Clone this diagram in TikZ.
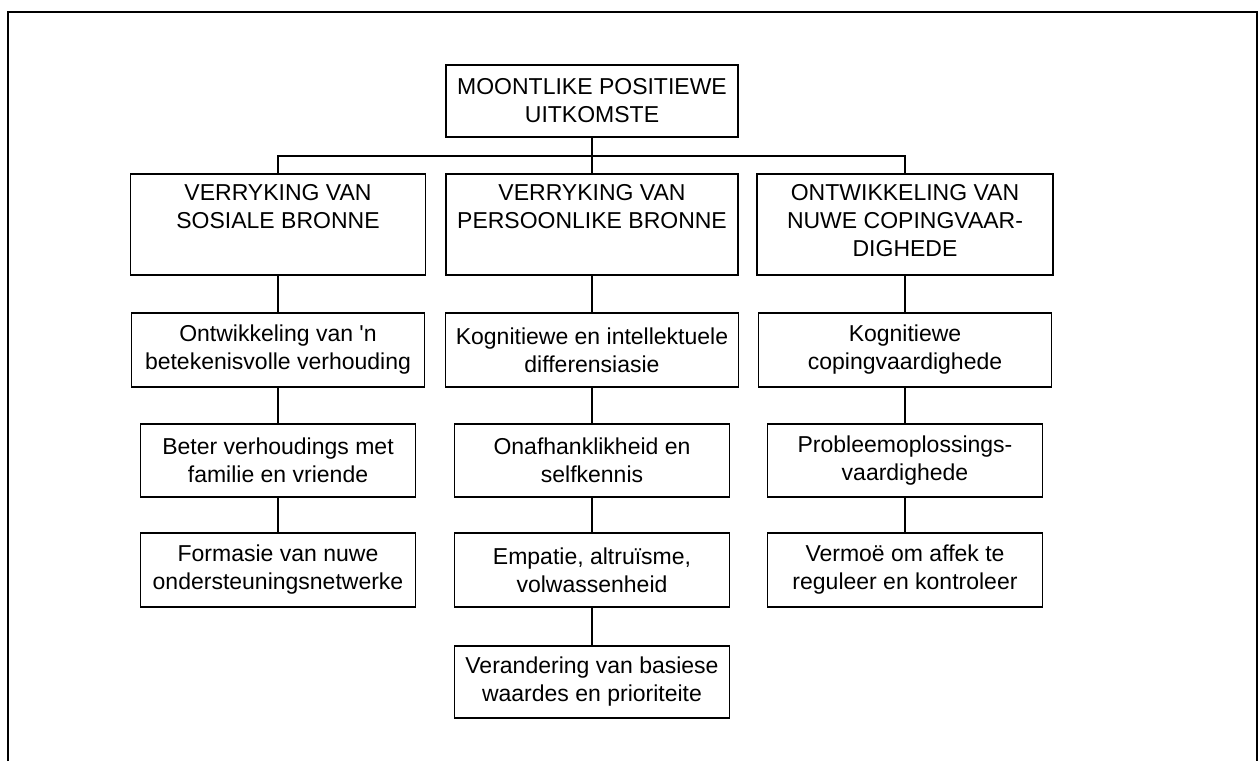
\documentclass[tikz,border=0pt]{standalone}
\usepackage{fontspec}
\setmainfont{Liberation Sans}
\tikzset{box/.style={draw,line width=1.3pt,inner sep=0pt,align=center,font=\fontsize{23}{28}\selectfont},
  wide/.style={box,minimum width=293,minimum height=74},
  narrow/.style={box,minimum width=275,minimum height=73}}

\begin{document}
\begin{tikzpicture}[x=1pt,y=-1pt]
\useasboundingbox (0,0) rectangle (1260,761);
\draw[line width=1.1pt] (8,761)--(8,12)--(1257,12)--(1257,761);
\node[box,minimum width=292,minimum height=72] (top) at (592,101) {MOONTLIKE POSITIEWE\\UITKOMSTE};
\node[box,minimum width=295,minimum height=101] (s1) at (278,224.5) {VERRYKING VAN\\SOSIALE BRONNE\\\strut};
\node[box,minimum width=292,minimum height=101] (p1) at (592,224.5) {VERRYKING VAN\\PERSOONLIKE BRONNE\\\strut};
\node[box,minimum width=296,minimum height=101] (c1) at (905,224.5) {ONTWIKKELING VAN\\NUWE COPINGVAAR-\\DIGHEDE\strut};
\node[wide] (s2) at (278,350) {Ontwikkeling van \textquotesingle n\\betekenisvolle verhouding};
\node[wide] (p2) at (592,350) {Kognitiewe en intellektuele\\differensiasie};
\node[wide] (c2) at (905,350) {Kognitiewe\\copingvaardighede};
\node[narrow] (s3) at (278,460.5) {Beter verhoudings met\\familie en vriende};
\node[narrow] (p3) at (592,460.5) {Onafhanklikheid en\\selfkennis};
\node[narrow] (c3) at (905,460.5) {Probleemoplossings-\\vaardighede};
\node[narrow,minimum height=74] (s4) at (278,570) {Formasie van nuwe\\ondersteuningsnetwerke};
\node[narrow,minimum height=74] (p4) at (592,570) {Empatie, altruïsme,\\volwassenheid};
\node[narrow,minimum height=74] (c4) at (905,570) {Vermoë om affek te\\reguleer en kontroleer};
\node[narrow,minimum height=72] (p5) at (592,682) {Verandering van basiese\\waardes en prioriteite};
\coordinate (bus) at (592,156);
\draw[line width=1.1pt] (s1.north) |- (bus) -| (top.south) (c1.north) |- (bus) (p1.north)--(top.south);
\foreach \a/\b in {s1/s2,s2/s3,s3/s4,p1/p2,p2/p3,p3/p4,p4/p5,c1/c2,c2/c3,c3/c4}
  \draw[line width=1.1pt] (\a.south)--(\b.north);
\end{tikzpicture}
\end{document}
